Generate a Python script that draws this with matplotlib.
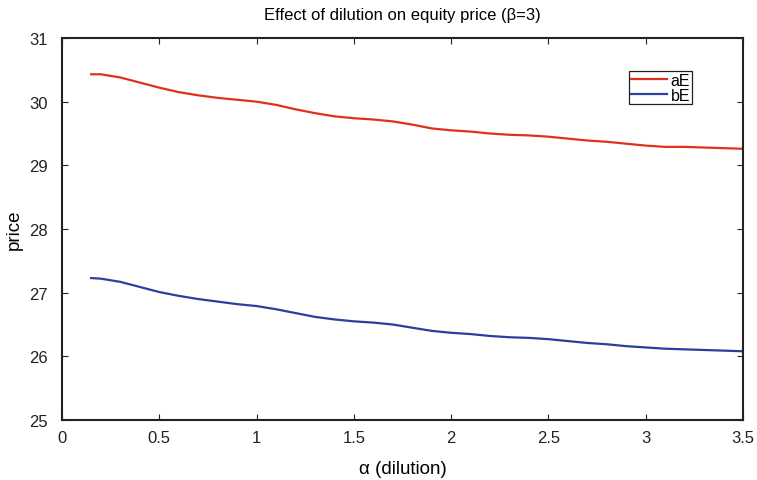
import matplotlib
matplotlib.use("Agg")
import matplotlib.pyplot as plt

alpha = [0.15, 0.2, 0.3, 0.4, 0.5, 0.6, 0.7, 0.8, 0.9, 1.0,
         1.1, 1.2, 1.3, 1.4, 1.5, 1.6, 1.7, 1.8, 1.9, 2.0,
         2.1, 2.2, 2.3, 2.4, 2.5, 2.6, 2.7, 2.8, 2.9, 3.0,
         3.1, 3.2, 3.3, 3.4, 3.5]
aE = [30.43, 30.43, 30.38, 30.30, 30.22, 30.15, 30.10, 30.06, 30.03, 30.00,
      29.95, 29.88, 29.82, 29.77, 29.74, 29.72, 29.69, 29.64, 29.58, 29.55,
      29.53, 29.50, 29.48, 29.47, 29.45, 29.42, 29.39, 29.37, 29.34, 29.31,
      29.29, 29.29, 29.28, 29.27, 29.26]
bE = [27.23, 27.22, 27.17, 27.09, 27.01, 26.95, 26.90, 26.86, 26.82, 26.79,
      26.74, 26.68, 26.62, 26.58, 26.55, 26.53, 26.50, 26.45, 26.40, 26.37,
      26.35, 26.32, 26.30, 26.29, 26.27, 26.24, 26.21, 26.19, 26.16, 26.14,
      26.12, 26.11, 26.10, 26.09, 26.08]

xticks = [0, 0.5, 1, 1.5, 2, 2.5, 3, 3.5]
xticklabels = ["0", "0.5", "1", "1.5", "2", "2.5", "3", "3.5"]
yticks = [25, 26, 27, 28, 29, 30, 31]

plt.rcParams['font.family'] = ['Liberation Sans', 'DejaVu Sans']

fig = plt.figure(figsize=(7.57, 4.81), dpi=100)
ax = fig.add_axes([0.0819, 0.1247, 0.8996, 0.7942])

ax.plot(alpha, aE, color='#e0301e', lw=1.6, label='aE')
ax.plot(alpha, bE, color='#2b3fa0', lw=1.6, label='bE')

ax.set_xlim(0, 3.5)
ax.set_ylim(25, 31)
ax.set_xticks(xticks)
ax.set_xticklabels(xticklabels)
ax.set_yticks(yticks)
ax.tick_params(direction='in', top=True, right=True, length=4, width=0.8,
               labelsize=12, colors='#222222')
ax.tick_params(axis='x', pad=7)
ax.tick_params(axis='y', pad=10)
for s in ax.spines.values():
    s.set_linewidth(1.5)
    s.set_color('#222222')

ax.set_title("Effect of dilution on equity price (\u03b2=3)", fontsize=12, pad=14)
ax.set_xlabel("\u03b1 (dilution)", fontsize=13.5, labelpad=11)
ax.set_ylabel("price", fontsize=13.5, labelpad=5)

leg = ax.legend(loc='upper left', bbox_to_anchor=(0.8326, 0.9136), fontsize=11.5,
                fancybox=False, edgecolor='#222222', framealpha=1,
                borderpad=0.1, labelspacing=0.0, handlelength=2.3,
                handletextpad=0.2, borderaxespad=0)
leg.get_frame().set_linewidth(0.9)

fig.savefig("out.png", dpi=100)
